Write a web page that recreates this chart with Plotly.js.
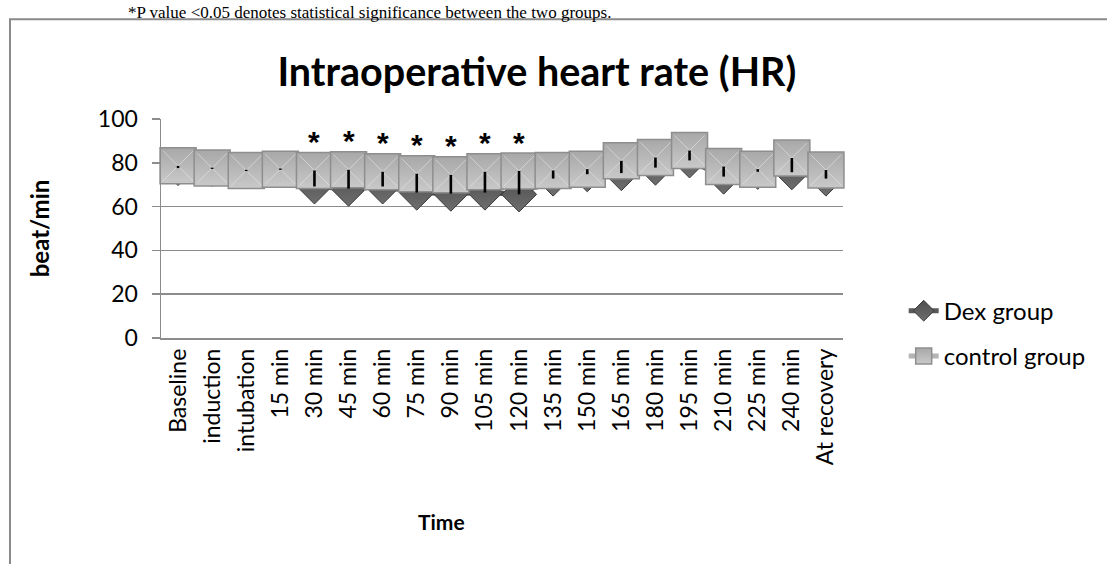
<!DOCTYPE html>
<html>
<head>
<meta charset="utf-8">
<script src="https://cdn.plot.ly/plotly-3.0.1.min.js"></script>
<style>
  html, body { margin: 0; padding: 0; background: #ffffff; }
  #chart { width: 1107px; height: 564px; }
</style>
</head>
<body>
<div id="chart"></div>
<script>
// ---- data ----
var categories = ["Baseline", "induction", "intubation", "15 min", "30 min", "45 min", "60 min",
  "75 min", "90 min", "105 min", "120 min", "135 min", "150 min", "165 min", "180 min",
  "195 min", "210 min", "225 min", "240 min", "At recovery"];
var dexGroup = [77.6, 77.2, 76.2, 76.8, 69.2, 68.2, 69.2, 66.4, 65.9, 66.4,
  65.6, 72.8, 74.8, 75.3, 77.8, 81.1, 73.7, 75.9, 75.7, 72.8];
var controlGroup = [78.6, 77.6, 76.5, 77.1, 76.5, 76.8, 75.9, 75.0, 74.5, 75.9,
  76.3, 76.5, 77.1, 80.9, 82.4, 85.6, 78.3, 77.1, 82.2, 76.7];
var significantCats = ["30 min", "45 min", "60 min", "75 min", "90 min", "105 min", "120 min"];
var yTicks = [0, 20, 40, 60, 80, 100];

var chartTitle = "Intraoperative heart rate (HR)";
var yTitle = "beat/min";
var xTitle = "Time";
var seriesNames = ["Dex group", "control group"];
var topNote = "*P value <0.05 denotes statistical significance between the two groups.";

// ---- high-low lines built from the two series ----
var hlX = [], hlY = [];
for (var i = 0; i < categories.length; i++) {
  var lo = Math.min(dexGroup[i], controlGroup[i]);
  var hi = Math.max(dexGroup[i], controlGroup[i]);
  if (hi - lo < 0.6) { hi = lo + 0.6; }
  hlX.push(categories[i], categories[i], null);
  hlY.push(lo, hi, null);
}

var FONT = 'Lato, "Open Sans", "DejaVu Sans", sans-serif';
var GRID = '#8c8c8c';

var traces = [
  {
    x: categories, y: dexGroup, name: seriesNames[0], type: 'scatter', mode: 'lines+markers',
    legendgroup: 'dex',
    line: {color: '#5a5a5a', width: 5},
    marker: {symbol: 'diamond', size: 27, color: '#4f4f4f',
             line: {color: '#3a3a3a', width: 1},
             gradient: {type: 'vertical', color: '#6e6e6e'}},
    hoverinfo: 'x+y+name', cliponaxis: false
  },
  {
    x: categories, y: controlGroup, name: seriesNames[1], type: 'scatter', mode: 'lines+markers',
    legendgroup: 'control',
    line: {color: '#b4b4b4', width: 5},
    marker: {symbol: 'square', size: 36, color: '#a8a8a8',
             line: {color: '#8e8e8e', width: 1.5},
             gradient: {type: 'vertical', color: '#c9c9c9'}},
    hoverinfo: 'x+y+name', cliponaxis: false
  },
  {
    x: categories, y: controlGroup, type: 'scatter', mode: 'markers', showlegend: false,
    marker: {symbol: 'x-thin-open', size: 30, color: 'rgba(235,235,235,0.55)',
             line: {color: 'rgba(235,235,235,0.55)', width: 1}},
    hoverinfo: 'skip', cliponaxis: false
  },
  {
    x: hlX, y: hlY, type: 'scatter', mode: 'lines', showlegend: false,
    line: {color: '#000000', width: 2.6}, hoverinfo: 'skip', cliponaxis: false
  }
];

var annotations = significantCats.map(function (c) {
  var idx = categories.indexOf(c);
  return {
    x: c, y: controlGroup[idx] + 13.2, xref: 'x', yref: 'y', text: '<b>*</b>', showarrow: false,
    yanchor: 'middle', font: {family: '"Liberation Sans", Arial, sans-serif', size: 30, color: '#000'}
  };
});
annotations.push({
  x: 0.4106, y: -0.8375, xref: 'paper', yref: 'paper', text: '<b>' + xTitle + '</b>',
  showarrow: false, xanchor: 'center', yanchor: 'middle',
  font: {family: FONT, size: 21, color: '#000'}
});
annotations.push({
  x: -0.052, y: 1.54, xref: 'paper', yref: 'paper', text: topNote,
  showarrow: false, xanchor: 'left', yanchor: 'top',
  font: {family: '"Liberation Serif", "Times New Roman", serif', size: 17, color: '#000'}
});

var layout = {
  width: 1107, height: 564,
  margin: {l: 161, r: 264, t: 119, b: 226, pad: 0},
  paper_bgcolor: '#ffffff', plot_bgcolor: '#ffffff',
  font: {family: FONT, size: 21, color: '#000'},
  title: {text: '<b>' + chartTitle + '</b>', font: {family: FONT, size: 39.5, color: '#000'},
          xref: 'container', yref: 'container', x: 0.485, y: 0.872,
          xanchor: 'center', yanchor: 'middle'},
  xaxis: {
    type: 'category', range: [-0.5, categories.length - 0.5],
    showline: true, linecolor: GRID, linewidth: 1.5, showgrid: false, zeroline: false,
    ticks: '', tickangle: -90, tickfont: {family: FONT, size: 23, color: '#000'},
    ticklabelstandoff: 0, fixedrange: true
  },
  yaxis: {
    range: [0, 100], tickvals: yTicks, ticktext: yTicks.map(String),
    showline: true, linecolor: GRID, linewidth: 1.5,
    showgrid: true, gridcolor: GRID, gridwidth: 1.5, zeroline: false,
    ticks: 'outside', ticklen: 8, tickcolor: GRID, tickwidth: 1.5,
    tickfont: {family: FONT, size: 23, color: '#000'}, ticklabelstandoff: 9,
    title: {text: '<b>' + yTitle + '</b>', font: {family: FONT, size: 24, color: '#000'}, standoff: 41},
    automargin: false, fixedrange: true
  },
  legend: {
    x: 1.089, y: 0.02, xanchor: 'left', yanchor: 'middle', orientation: 'v',
    font: {family: FONT, size: 24, color: '#000'}, bgcolor: 'rgba(0,0,0,0)',
    tracegroupgap: 11, traceorder: 'grouped', itemwidth: 30
  },
  showlegend: true,
  shapes: [{
    type: 'rect', xref: 'paper', yref: 'paper', x0: -0.2214, x1: 1.45, y0: -1.2, y1: 1.455,
    line: {color: '#8a8a8a', width: 2}, fillcolor: 'rgba(0,0,0,0)', layer: 'below'
  }],
  annotations: annotations
};

Plotly.newPlot('chart', traces, layout, {displayModeBar: false, staticPlot: true});
</script>
</body>
</html>
